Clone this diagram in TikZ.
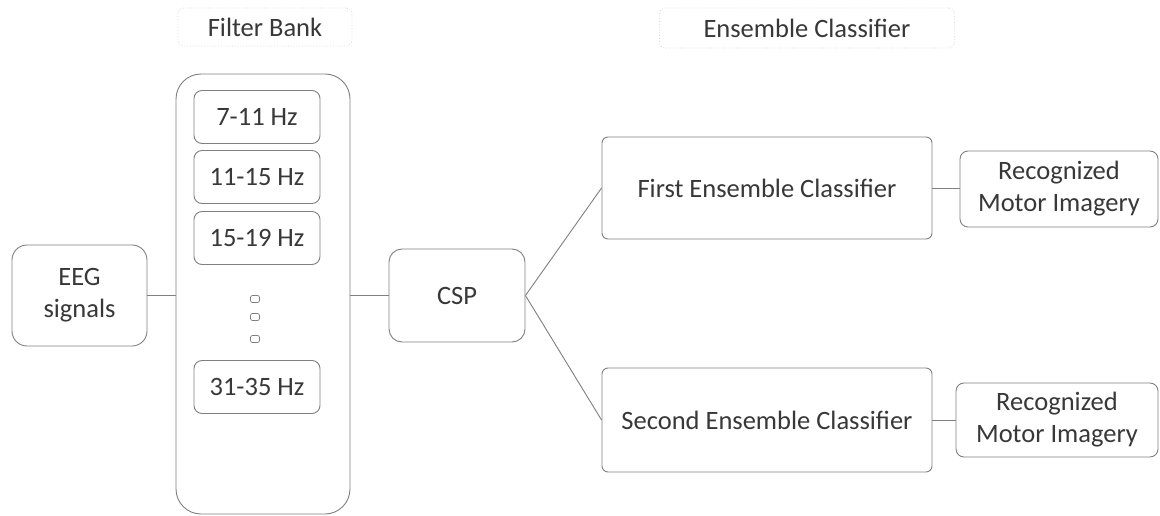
\documentclass[tikz,border=0pt]{standalone}
\usepackage{fontspec}
\setmainfont{Carlito}
\begin{document}
\begin{tikzpicture}[x=1pt,y=-1pt,
  txt/.style={text=black!78, font=\fontsize{26.5}{32}\selectfont, align=center, inner sep=0pt},
  box/.style={txt, draw=black!50, line width=0.9pt, fill=white},
  band/.style={box, rounded corners=8pt, minimum width=126pt, minimum height=53pt},
  title/.style={txt, draw=black!15, dotted, line width=0.8pt, rounded corners=6pt},
  conn/.style={draw=black!50, line width=0.9pt},
  dotbox/.style={draw=black!50, line width=0.7pt, rounded corners=2pt, minimum width=9pt, minimum height=7pt, inner sep=0pt}]
\useasboundingbox (0,0) rectangle (1160,516);
\fill[white] (0,0) rectangle (1160,516);
% titles
\node[title, minimum width=174pt, minimum height=38pt] (tfb) at (265,27) {Filter Bank};
\node[title, minimum width=295pt, minimum height=40pt] (tec) at (807,28) {Ensemble Classifier};
% filter bank container
\node[box, rounded corners=25pt, minimum width=174pt, minimum height=440pt] (fb) at (263,294) {};
\node[band] (b1) at (257,117) {7-11 Hz};
\node[band] (b2) at (257,177) {11-15 Hz};
\node[band] (b3) at (257,238) {15-19 Hz};
\node[dotbox] (d1) at (255,299) {};
\node[dotbox] (d2) at (255,317) {};
\node[dotbox] (d3) at (255,339) {};
\node[band] (b4) at (257,387) {31-35 Hz};
% EEG
\node[box, rounded corners=15pt, minimum width=135pt, minimum height=101pt] (eeg) at (79.5,295.5) {EEG\\signals};
% CSP
\node[box, rounded corners=13pt, minimum width=136pt, minimum height=93pt] (csp) at (457,295.5) {CSP};
% ensemble classifiers
\node[box, rounded corners=6pt, minimum width=330pt, minimum height=102pt] (ec1) at (767,188) {First Ensemble Classifier};
\node[box, rounded corners=6pt, minimum width=330pt, minimum height=104pt] (ec2) at (767,420) {Second Ensemble Classifier};
% outputs
\node[box, rounded corners=8pt, minimum width=198pt, minimum height=76pt] (r1) at (1059,189) {Recognized\\Motor Imagery};
\node[box, rounded corners=8pt, minimum width=202pt, minimum height=74pt] (r2) at (1057,420) {Recognized\\Motor Imagery};
% connectors
\draw[conn] (eeg.east) -- (eeg.east -| fb.west);
\draw[conn] (csp.west -| fb.east) -- (csp.west);
\draw[conn] (csp.east) -- (ec1.west);
\draw[conn] (csp.east) -- (ec2.west);
\draw[conn] (ec1.east) -- (ec1.east -| r1.west);
\draw[conn] (ec2.east) -- (ec2.east -| r2.west);
\end{tikzpicture}
\end{document}
